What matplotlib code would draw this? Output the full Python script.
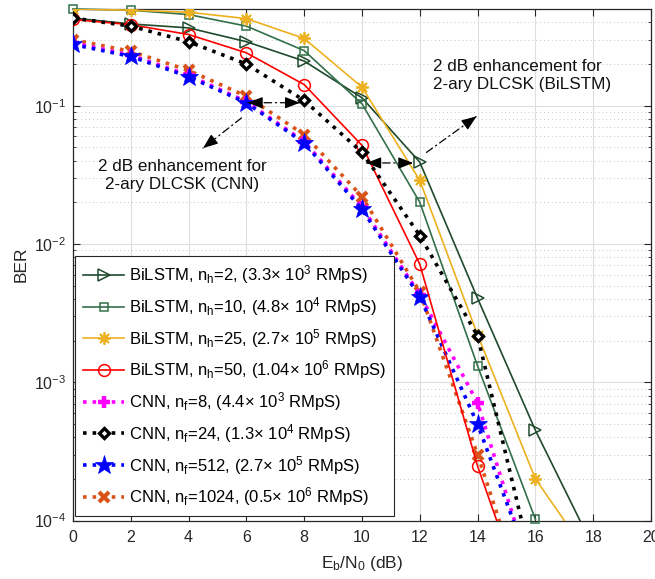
import matplotlib
matplotlib.use("Agg")
import matplotlib.pyplot as plt
from matplotlib.ticker import LogLocator, NullFormatter, FixedLocator

plt.rcParams['font.family'] = ['Liberation Sans', 'DejaVu Sans']
plt.rcParams['mathtext.default'] = 'regular'
plt.rcParams['mathtext.fontset'] = 'custom'
plt.rcParams['mathtext.rm'] = 'Liberation Sans'
plt.rcParams['mathtext.it'] = 'Liberation Sans'

# ---------------- data ----------------
ebn0_a = [0, 2, 4, 6, 8, 10, 12, 14, 16, 18]
ebn0_b = [0, 2, 4, 6, 8, 10, 12, 14, 16]

ber_bilstm_h2 = [0.43, 0.39, 0.365, 0.29, 0.21, 0.114, 0.039, 0.00404, 0.000449, 6.4e-5]
ber_bilstm_h10 = [0.50, 0.49, 0.456, 0.376, 0.25, 0.103, 0.020, 0.00131, 1.02e-4]
ber_bilstm_h25 = [0.50, 0.49, 0.474, 0.426, 0.306, 0.136, 0.0288, 0.0022, 0.0002, 5e-5]
ber_bilstm_h50 = [0.42, 0.385, 0.327, 0.241, 0.142, 0.0516, 0.00713, 0.000247, 1.6e-5]
ber_cnn_f8 = [0.285, 0.232, 0.166, 0.107, 0.055, 0.0185, 0.0043, 0.000707, 3.3e-5]
ber_cnn_f24 = [0.43, 0.376, 0.29, 0.20, 0.109, 0.046, 0.0115, 0.00216, 3.8e-5]
ber_cnn_f512 = [0.277, 0.227, 0.162, 0.105, 0.0537, 0.0178, 0.00415, 0.000497, 3.7e-5]
ber_cnn_f1024 = [0.30, 0.247, 0.18, 0.117, 0.0617, 0.022, 0.0045, 0.000299, 1.6e-5]

labels = [
    r'BiLSTM, n$_{h}$=2, (3.3$\times$ 10$^{3}$ RMpS)',
    r'BiLSTM, n$_{h}$=10, (4.8$\times$ 10$^{4}$ RMpS)',
    r'BiLSTM, n$_{h}$=25, (2.7$\times$ 10$^{5}$ RMpS)',
    r'BiLSTM, n$_{h}$=50, (1.04$\times$ 10$^{6}$ RMpS)',
    r'CNN, n$_{f}$=8, (4.4$\times$ 10$^{3}$ RMpS)',
    r'CNN, n$_{f}$=24, (1.3$\times$ 10$^{4}$ RMpS)',
    r'CNN, n$_{f}$=512, (2.7$\times$ 10$^{5}$ RMpS)',
    r'CNN, n$_{f}$=1024, (0.5$\times$ 10$^{6}$ RMpS)',
]

xticks = [0, 2, 4, 6, 8, 10, 12, 14, 16, 18, 20]
yticks = [1e-4, 1e-3, 1e-2, 1e-1]
ytick_labels = [r'10$^{-4}$', r'10$^{-3}$', r'10$^{-2}$', r'10$^{-1}$']

# ---------------- figure ----------------
fig = plt.figure(figsize=(6.55, 5.79), dpi=100)
ax = fig.add_axes([73 / 655, 1 - 520.5 / 579, 578 / 655, 511.5 / 579])

ax.set_yscale('log')
ax.set_xlim(0, 20)
ax.set_ylim(1e-4, 0.5)

c_dg = '#1f4a2c'
c_mg = '#33704a'
c_yl = '#EDB120'
c_rd = '#FF0000'
c_mag = '#FF00FF'
c_or = '#D95319'

l1, = ax.plot(ebn0_a, ber_bilstm_h2, '-', color=c_dg, lw=1.2, marker='>', ms=8,
              mfc='none', mec=c_dg, mew=1.1, label=labels[0], zorder=5)
l2, = ax.plot(ebn0_b, ber_bilstm_h10, '-', color=c_mg, lw=1.2, marker='s', ms=6,
              mfc='none', mec=c_mg, mew=1.1, label=labels[1], zorder=5, clip_on=False)
l3, = ax.plot(ebn0_a, ber_bilstm_h25, '-', color=c_yl, lw=1.2, marker=(8, 2, 0), ms=9,
              mfc=c_yl, mec=c_yl, mew=1.3, label=labels[2], zorder=5)
l4, = ax.plot(ebn0_b, ber_bilstm_h50, '-', color=c_rd, lw=1.2, marker='o', ms=8.5,
              mfc='none', mec=c_rd, mew=1.1, label=labels[3], zorder=5)
l5, = ax.plot(ebn0_b, ber_cnn_f8, ':', color=c_mag, lw=2.6, marker='+', ms=8,
              mfc=c_mag, mec=c_mag, mew=3.2, label=labels[4], zorder=4)
l6, = ax.plot(ebn0_b, ber_cnn_f24, ':', color='black', lw=2.6, marker='D', ms=5.5,
              mfc='white', mec='black', mew=2.4, label=labels[5], zorder=6)
l7, = ax.plot(ebn0_b, ber_cnn_f512, ':', color='#0000FF', lw=2.6, marker='*', ms=14,
              mfc='#0000FF', mec='#0000FF', mew=0.5, label=labels[6], zorder=4)
l8, = ax.plot(ebn0_b, ber_cnn_f1024, ':', color=c_or, lw=2.6, marker='x', ms=6.5,
              mfc=c_or, mec=c_or, mew=3.0, label=labels[7], zorder=3)

# ---------------- grid / ticks ----------------
ax.set_xticks(xticks)
ax.set_xticklabels([str(v) for v in xticks], fontsize=11.5)
ax.yaxis.set_major_locator(FixedLocator(yticks))
ax.set_yticklabels(ytick_labels, fontsize=11.5)
ax.yaxis.set_minor_locator(LogLocator(base=10, subs=range(2, 10)))
ax.yaxis.set_minor_formatter(NullFormatter())
ax.tick_params(which='major', direction='in', length=5, width=0.8, top=True, right=True, colors='#262626')
ax.tick_params(which='minor', direction='in', length=2.5, width=0.6, top=True, right=True, colors='#262626')
ax.tick_params(axis='x', labelcolor='#262626', pad=7)
ax.tick_params(axis='y', labelcolor='#262626', pad=5)
ax.grid(True, which='major', color='#dedede', lw=0.8, ls='-', zorder=0)
ax.grid(True, which='minor', axis='y', color='#c8c8c8', lw=0.7, ls=(0, (1, 3)), zorder=0)
ax.set_axisbelow(True)
for s in ax.spines.values():
    s.set_color('#262626')
    s.set_linewidth(0.9)

ax.set_xlabel(r'E$_{b}$/N$_{0}$ (dB)', fontsize=12.5, color='#262626', labelpad=6)
ax.set_ylabel('BER', fontsize=12.5, color='#262626', labelpad=4)

# ---------------- annotations ----------------
def dashed_arrow(x0, y0, x1, y1, both=False):
    ax.annotate('', xy=(x1, y1), xytext=(x0, y0),
                arrowprops=dict(arrowstyle='-', color='black', lw=0.9, ls=(0, (6, 3, 1, 3)),
                                shrinkA=0, shrinkB=0), zorder=7)
    hs = dict(arrowstyle='-|>,head_length=0.9,head_width=0.35', color='black', lw=0.9,
              shrinkA=0, shrinkB=0)
    ax.annotate('', xy=(x1, y1), xytext=(x0 + 0.85 * (x1 - x0), y0 * (y1 / y0) ** 0.85),
                arrowprops=hs, zorder=7)
    if both:
        ax.annotate('', xy=(x0, y0), xytext=(x0 + 0.15 * (x1 - x0), y0 * (y1 / y0) ** 0.15),
                    arrowprops=hs, zorder=7)

dashed_arrow(6.05, 0.105, 7.85, 0.105, both=True)
dashed_arrow(5.83, 0.0815, 4.5, 0.0493)
dashed_arrow(10.15, 0.0385, 11.77, 0.0385, both=True)
dashed_arrow(12.23, 0.0459, 13.96, 0.0836)

ax.text(3.77, 0.0311, '2 dB enhancement for\n2-ary DLCSK (CNN)', ha='center', va='center',
        multialignment='center', fontsize=12.3, color='#111111', linespacing=1.25, zorder=8)
ax.text(12.45, 0.166, '2 dB enhancement for\n2-ary DLCSK (BiLSTM)', ha='left', va='center',
        multialignment='left', fontsize=12.3, color='#111111', linespacing=1.25, zorder=8)

# ---------------- legend ----------------
leg = ax.legend(handles=[l1, l2, l3, l4, l5, l6, l7, l8], loc='lower left',
                bbox_to_anchor=(0.004, 0.009), fontsize=12, frameon=True, fancybox=False,
                edgecolor='#262626', framealpha=1, handlelength=2.5, handletextpad=0.3,
                labelspacing=0.53, borderpad=0.45, borderaxespad=0)
leg.get_frame().set_linewidth(0.8)
leg.set_zorder(10)

fig.savefig('out.png', dpi=100)
